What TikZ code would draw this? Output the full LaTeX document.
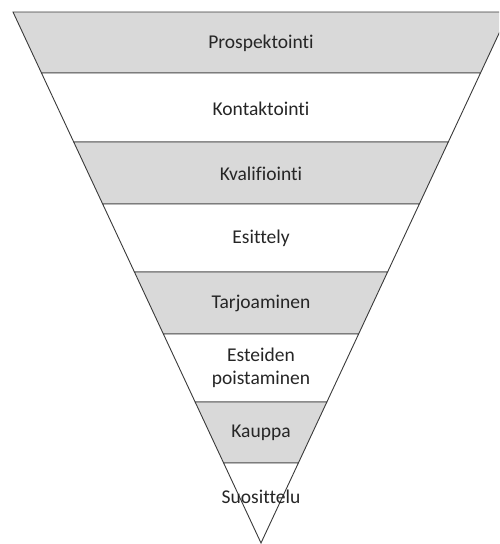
\documentclass[tikz,border=0pt]{standalone}
\usepackage{fontspec}
\setmainfont{Carlito}[Ligatures={NoCommon,NoRare,NoContextual}]
\usetikzlibrary{calc}
\definecolor{bandgray}{HTML}{D9D9D9}
\definecolor{edgegray}{HTML}{3A3A3A}
\begin{document}
\begin{tikzpicture}[x=1pt,y=-1pt,
  greyband/.style={fill=bandgray,draw=edgegray,line width=0.9pt,line join=miter},
  whiteband/.style={fill=white,draw=edgegray,line width=0.9pt,line join=miter},
  stagetext/.style={font=\fontsize{19.5}{23}\selectfont,text=black!85,align=center,inner sep=0pt}]
\useasboundingbox (0,0) rectangle (499,544);
\clip (0,0) rectangle (499,544);
% funnel corners
\coordinate (apex) at (261,543);
\coordinate (tl) at (13,12);
\coordinate (tr) at (509,12);
% horizontal bands of the funnel, top to bottom
\foreach \ya/\yb/\st in {12/73/greyband,73/142/whiteband,142/204/greyband,204/272/whiteband,272/334/greyband,334/402/whiteband,402/463/greyband,463/543/whiteband}{
  \draw[\st] ($(apex)!{(543-\ya)/531}!(tl)$) -- ($(apex)!{(543-\ya)/531}!(tr)$)
    -- ($(apex)!{(543-\yb)/531}!(tr)$) -- ($(apex)!{(543-\yb)/531}!(tl)$) -- cycle;
}
% stage labels
\node[stagetext] (s1) at (261,43) {Prospektointi};
\node[stagetext] (s2) at (261,109) {Kontaktointi};
\node[stagetext] (s3) at (261,174) {Kvalifiointi};
\node[stagetext] (s4) at (261,238) {Esittely};
\node[stagetext] (s5) at (261,303) {Tarjoaminen};
\node[stagetext] (s6) at (261,368) {Esteiden\\poistaminen};
\node[stagetext] (s7) at (261,433) {Kauppa};
\node[stagetext] (s8) at (261,497) {Suosittelu};
\end{tikzpicture}
\end{document}
